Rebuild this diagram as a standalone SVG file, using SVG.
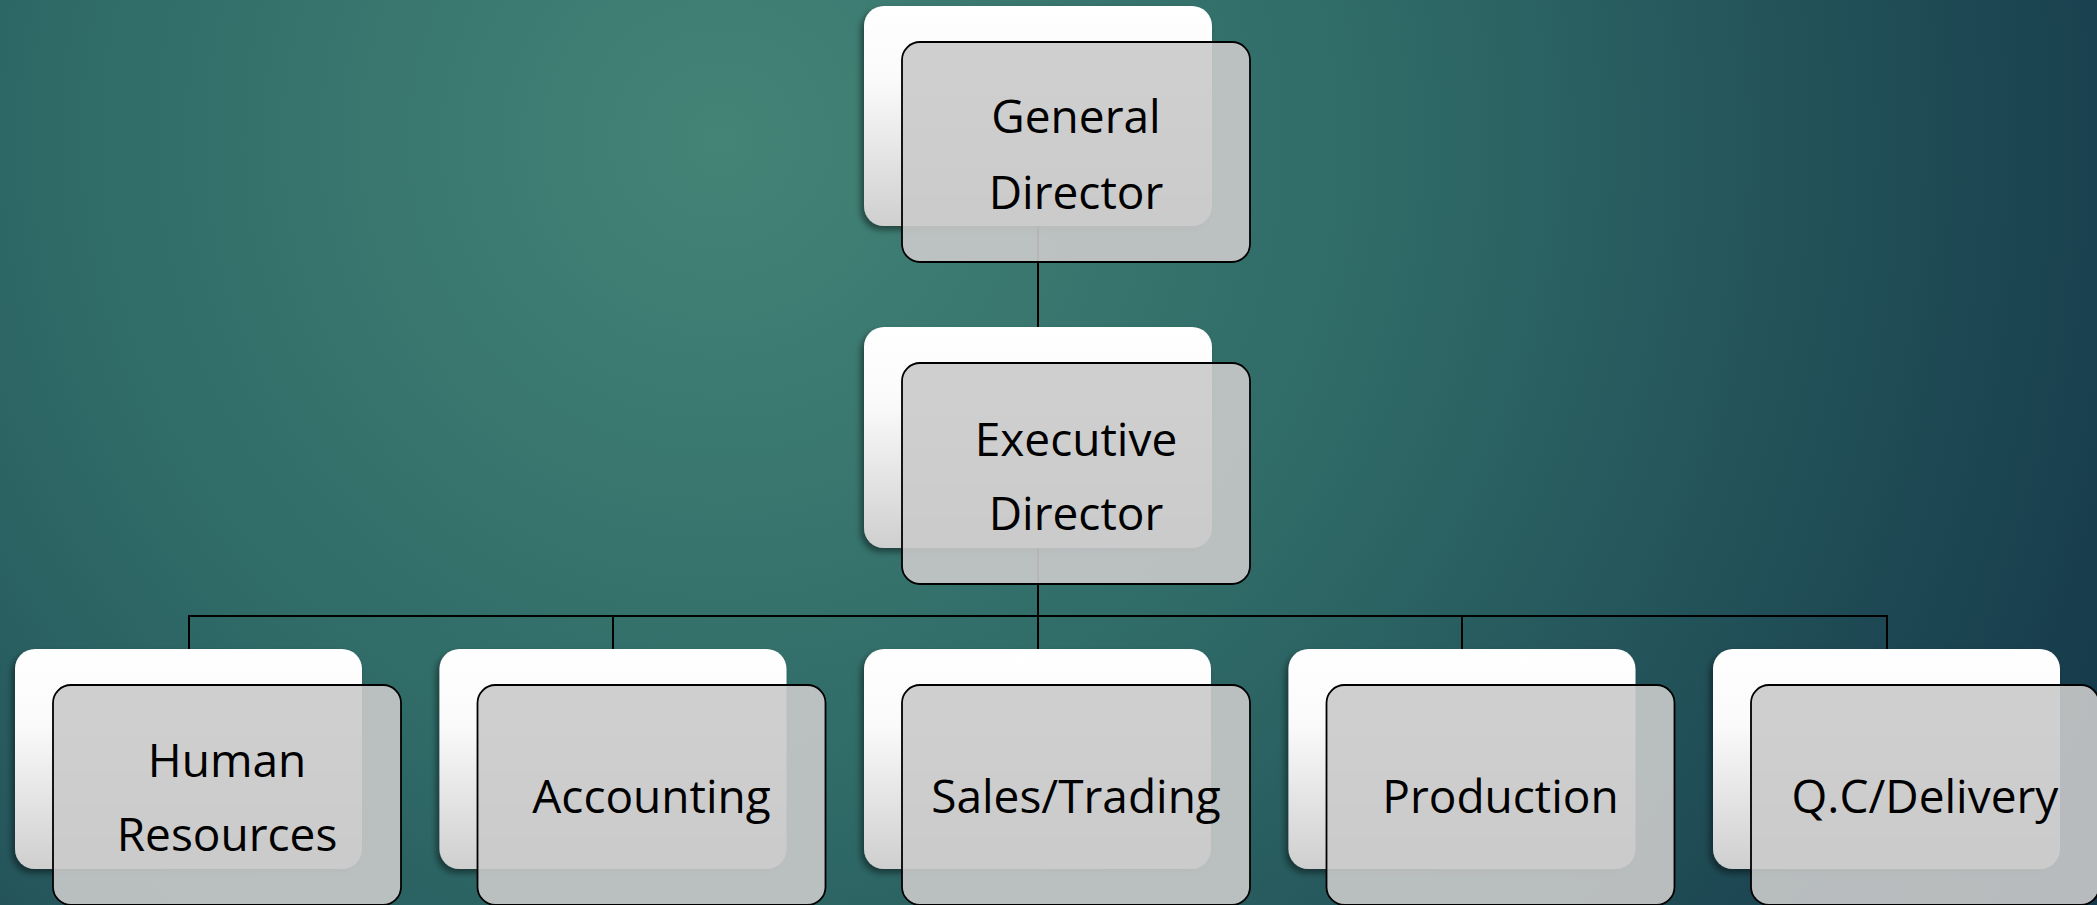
<svg xmlns="http://www.w3.org/2000/svg" width="2097" height="905" viewBox="0 0 2097 905">
<defs>
<radialGradient id="bg" cx="720" cy="140" r="1500" gradientUnits="userSpaceOnUse">
<stop offset="0" stop-color="#438477"/>
<stop offset="0.45" stop-color="#2f6a67"/>
<stop offset="1" stop-color="#163a4b"/>
</radialGradient>
<linearGradient id="card" x1="0" y1="0" x2="0" y2="1">
<stop offset="0" stop-color="#ffffff"/>
<stop offset="0.35" stop-color="#fafafa"/>
<stop offset="1" stop-color="#cfcfcf"/>
</linearGradient>
<filter id="sh" x="-10%" y="-10%" width="120%" height="125%">
<feDropShadow dx="-3" dy="4" stdDeviation="3" flood-color="#000" flood-opacity="0.45"/>
</filter>
</defs>
<style>
.back{fill:url(#card);filter:url(#sh)}
.front{fill:#cacaca;fill-opacity:0.9;stroke:#000;stroke-width:1.8}
.lbl{font-family:"Open Sans","Noto Sans",sans-serif;font-size:46px;fill:#000;text-anchor:middle}
.conn{stroke:#000;stroke-width:2;fill:none}
</style>
<rect width="2097" height="905" fill="url(#bg)"/>
<g id="connectors">
<path class="conn" d="M1038 226V327"/>
<path class="conn" d="M1038 548V616"/>
<path class="conn" d="M189 649V616H1887V649"/>
<path class="conn" d="M613 616V649"/>
<path class="conn" d="M1038 616V649"/>
<path class="conn" d="M1462 616V649"/>
</g>
<g id="general-director">
<rect class="back" x="864" y="6" width="348" height="220" rx="20"/>
<rect class="front" x="902" y="42" width="348" height="220" rx="18"/>
<text class="lbl" x="1076" y="133">General</text>
<text class="lbl" x="1076" y="209">Director</text>
</g>
<g id="executive-director">
<rect class="back" x="864" y="327" width="348" height="221" rx="20"/>
<rect class="front" x="902" y="363" width="348" height="221" rx="18"/>
<text class="lbl" x="1076" y="456">Executive</text>
<text class="lbl" x="1076" y="530">Director</text>
</g>
<g id="human-resources">
<rect class="back" x="15" y="649" width="347" height="220" rx="20"/>
<rect class="front" x="53" y="685" width="348" height="220" rx="18"/>
<text class="lbl" x="227" y="777">Human</text>
<text class="lbl" x="227" y="851">Resources</text>
</g>
<g id="accounting">
<rect class="back" x="439.5" y="649" width="347" height="220" rx="20"/>
<rect class="front" x="477.5" y="685" width="348" height="220" rx="18"/>
<text class="lbl" x="651.5" y="813">Accounting</text>
</g>
<g id="sales-trading">
<rect class="back" x="864" y="649" width="347" height="220" rx="20"/>
<rect class="front" x="902" y="685" width="348" height="220" rx="18"/>
<text class="lbl" x="1076" y="813">Sales/Trading</text>
</g>
<g id="production">
<rect class="back" x="1288.5" y="649" width="347" height="220" rx="20"/>
<rect class="front" x="1326.5" y="685" width="348" height="220" rx="18"/>
<text class="lbl" x="1500.5" y="813">Production</text>
</g>
<g id="qc-delivery">
<rect class="back" x="1713" y="649" width="347" height="220" rx="20"/>
<rect class="front" x="1751" y="685" width="348" height="220" rx="18"/>
<text class="lbl" x="1925" y="813">Q.C/Delivery</text>
</g>
</svg>
